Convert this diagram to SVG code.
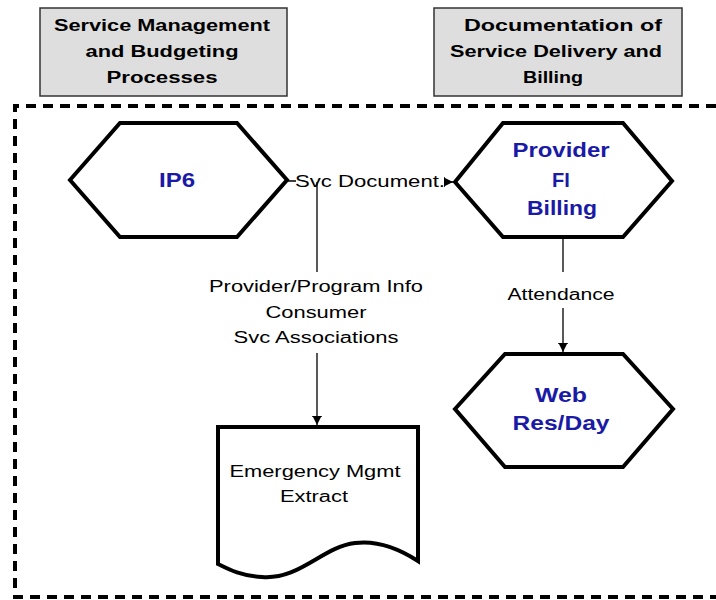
<svg xmlns="http://www.w3.org/2000/svg" width="716" height="600" viewBox="0 0 716 600">
<defs>
<style>
.hdr{fill:#dedede;stroke:#333;stroke-width:1.5}
.hdrt{font-family:"Liberation Sans",Arial,sans-serif;font-weight:bold;font-size:16px;fill:#000;text-anchor:middle}
.hex{fill:#fff;stroke:#000;stroke-width:4;stroke-linejoin:miter}
.nt{font-family:"Liberation Sans",Arial,sans-serif;font-weight:bold;font-size:20px;fill:#1a1aa6;text-anchor:middle}
.lt{font-family:"Liberation Sans",Arial,sans-serif;font-size:16px;fill:#000;text-anchor:middle}
.ln{fill:none;stroke:#000;stroke-width:1.3}
</style>
<marker id="arr" markerWidth="10" markerHeight="10" refX="9" refY="5" orient="auto" markerUnits="userSpaceOnUse">
<path d="M0,0.5 L9,5 L0,9.5 Z" fill="#000"/>
<path d="M0,0 V10" stroke="#000" stroke-width="1.5"/>
</marker>
</defs>
<rect width="716" height="600" fill="#fff"/>
<path d="M716,106 H15 V597 H716" fill="none" stroke="#000" stroke-width="4" stroke-dasharray="10 7"/>
<g id="hdr1">
<rect class="hdr" x="40" y="8" width="247" height="88"/>
<text class="hdrt" x="162" y="31" textLength="216" lengthAdjust="spacingAndGlyphs">Service Management</text>
<text class="hdrt" x="162" y="57" textLength="153" lengthAdjust="spacingAndGlyphs">and Budgeting</text>
<text class="hdrt" x="162" y="83" textLength="111" lengthAdjust="spacingAndGlyphs">Processes</text>
</g>
<g id="hdr2">
<rect class="hdr" x="434" y="8" width="248" height="88"/>
<text class="hdrt" x="563" y="31" textLength="198" lengthAdjust="spacingAndGlyphs">Documentation of</text>
<text class="hdrt" x="556" y="57" textLength="212" lengthAdjust="spacingAndGlyphs">Service Delivery and</text>
<text class="hdrt" x="553" y="83" textLength="60" lengthAdjust="spacingAndGlyphs">Billing</text>
</g>
<g id="connectors">
<path class="ln" d="M287,181 H296 M445,182 H453" marker-end="url(#arr)"/>
<path class="ln" d="M317,182 V272 M317,353 V425" marker-end="url(#arr)"/>
<path class="ln" d="M563,239 V272 M563,308 V352" marker-end="url(#arr)"/>
<text class="lt" x="370" y="187" textLength="150" lengthAdjust="spacingAndGlyphs">Svc Document.</text>
<text class="lt" x="316" y="292" textLength="214" lengthAdjust="spacingAndGlyphs">Provider/Program Info</text>
<text class="lt" x="316" y="318" textLength="101" lengthAdjust="spacingAndGlyphs">Consumer</text>
<text class="lt" x="316" y="343" textLength="165" lengthAdjust="spacingAndGlyphs">Svc Associations</text>
<text class="lt" x="561" y="300" textLength="107" lengthAdjust="spacingAndGlyphs">Attendance</text>
</g>
<g id="ip6">
<polygon class="hex" points="70,180 120,123 237,123 287,180 237,237 120,237"/>
<text class="nt" x="177" y="187" textLength="36" lengthAdjust="spacingAndGlyphs">IP6</text>
</g>
<g id="provider">
<polygon class="hex" points="455,182 503,123 623,123 672,181 623,237 503,237"/>
<text class="nt" x="561" y="157" textLength="97" lengthAdjust="spacingAndGlyphs">Provider</text>
<text class="nt" x="561" y="187">FI</text>
<text class="nt" x="562" y="215" textLength="70" lengthAdjust="spacingAndGlyphs">Billing</text>
</g>
<g id="web">
<polygon class="hex" points="455,409 505,354 623,354 673,409 623,467 505,467"/>
<text class="nt" x="561" y="402" textLength="52" lengthAdjust="spacingAndGlyphs">Web</text>
<text class="nt" x="561" y="430" textLength="97" lengthAdjust="spacingAndGlyphs">Res/Day</text>
</g>
<g id="extract">
<path class="hex" d="M218,427 H418 V561 C398,548 378,540 355,543 C322,547 300,580 262,577 C242,576 230,570 218,564 Z"/>
<text class="lt" x="315" y="477" textLength="171" lengthAdjust="spacingAndGlyphs">Emergency Mgmt</text>
<text class="lt" x="314" y="502" textLength="68" lengthAdjust="spacingAndGlyphs">Extract</text>
</g>
</svg>
